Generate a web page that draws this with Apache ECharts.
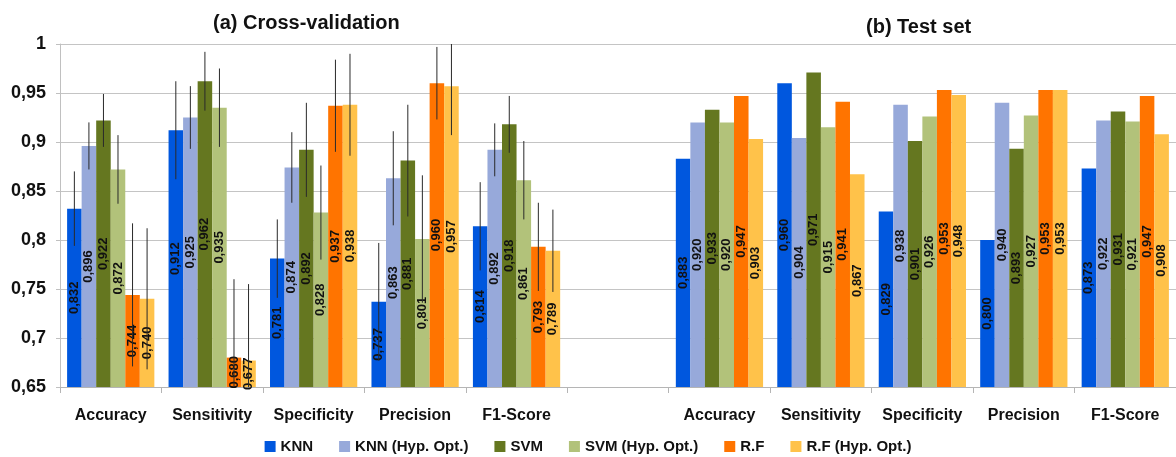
<!DOCTYPE html>
<html>
<head>
<meta charset="utf-8">
<script src="https://cdn.jsdelivr.net/npm/echarts@6/dist/echarts.min.js"></script>
<style>
html,body{margin:0;padding:0;background:#fff;}
#chart{width:1176px;height:457px;}
</style>
</head>
<body>
<div id="chart"></div>
<script>
// ---- data ----
const metrics = ['Accuracy', 'Sensitivity', 'Specificity', 'Precision', 'F1-Score'];
const categories = metrics.concat([''], metrics);
const seriesNames = ['KNN', 'KNN (Hyp. Opt.)', 'SVM', 'SVM (Hyp. Opt.)', 'R.F', 'R.F (Hyp. Opt.)'];

// Cross-validation values (per model, per metric)
const cvKNN    = [0.832, 0.912, 0.781, 0.737, 0.814];
const cvKNNHyp = [0.896, 0.925, 0.874, 0.863, 0.892];
const cvSVM    = [0.922, 0.962, 0.892, 0.881, 0.918];
const cvSVMHyp = [0.872, 0.935, 0.828, 0.801, 0.861];
const cvRF     = [0.744, 0.680, 0.937, 0.960, 0.793];
const cvRFHyp  = [0.740, 0.677, 0.938, 0.957, 0.789];

// Test-set values
const tsKNN    = [0.883, 0.960, 0.829, 0.800, 0.873];
const tsKNNHyp = [0.920, 0.904, 0.938, 0.940, 0.922];
const tsSVM    = [0.933, 0.971, 0.901, 0.893, 0.931];
const tsSVMHyp = [0.920, 0.915, 0.926, 0.927, 0.921];
const tsRF     = [0.947, 0.941, 0.953, 0.953, 0.947];
const tsRFHyp  = [0.903, 0.867, 0.948, 0.953, 0.908];

// Cross-validation error bar half-widths (estimated)
const errKNN    = [0.038, 0.050, 0.040, 0.060, 0.045];
const errKNNHyp = [0.024, 0.032, 0.036, 0.048, 0.027];
const errSVM    = [0.027, 0.030, 0.048, 0.057, 0.029];
const errSVMHyp = [0.035, 0.040, 0.048, 0.065, 0.040];
const errRF     = [0.073, 0.080, 0.047, 0.037, 0.045];
const errRFHyp  = [0.072, 0.078, 0.052, 0.050, 0.042];

const yTicks = [0.65, 0.7, 0.75, 0.8, 0.85, 0.9, 0.95, 1];
const colors = ['#0057DE', '#97A9DA', '#657720', '#B2C27A', '#FF7400', '#FFC24A'];

// ---- build ----
const cvAll = [cvKNN, cvKNNHyp, cvSVM, cvSVMHyp, cvRF, cvRFHyp];
const tsAll = [tsKNN, tsKNNHyp, tsSVM, tsSVMHyp, tsRF, tsRFHyp];
const errAll = [errKNN, errKNNHyp, errSVM, errSVMHyp, errRF, errRFHyp];
const Y_MIN = yTicks[0], Y_MAX = yTicks[yTicks.length - 1];
const GAP = 0.14;
const FONT = "'Liberation Sans', Arial, sans-serif";

const series = [];
seriesNames.forEach(function (name, i) {
  series.push({
    type: 'bar',
    name: name,
    data: cvAll[i].concat(['-'], tsAll[i]),
    barGap: '0%',
    barCategoryGap: (GAP * 100) + '%',
    itemStyle: { color: colors[i] },
    label: {
      show: true,
      position: 'inside',
      rotate: 90,
      color: '#111',
      fontFamily: FONT,
      fontSize: 13,
      fontWeight: 'bold',
      formatter: function (p) { return Number(p.value).toFixed(3).replace('.', ','); }
    }
  });
});
seriesNames.forEach(function (name, i) {
  series.push({
    type: 'custom',
    name: 'err' + i,
    silent: true,
    z: 10,
    data: cvAll[i].map(function (v, k) { return [k, v - errAll[i][k], v + errAll[i][k]]; }),
    renderItem: function (params, api) {
      const c = api.value(0);
      const lo = Math.max(api.value(1), Y_MIN);
      const hi = Math.min(api.value(2), Y_MAX);
      const pLo = api.coord([c, lo]);
      const pHi = api.coord([c, hi]);
      const band = api.size([1, 0])[0];
      const total = band * (1 - GAP);
      const bw = total / 6;
      const x = pLo[0] - total / 2 + bw * (i + 0.5);
      return {
        type: 'line',
        shape: { x1: x, y1: pLo[1], x2: x, y2: pHi[1] },
        style: { stroke: '#2a2a2a', lineWidth: 1 }
      };
    }
  });
});

const chart = echarts.init(document.getElementById('chart'), null, { renderer: 'canvas' });
chart.setOption({
  animation: false,
  textStyle: { fontFamily: FONT },
  title: [
    { text: '(a) Cross-validation', left: 213, top: 13, padding: 0,
      textStyle: { fontFamily: FONT, fontSize: 20, fontWeight: 'bold', color: '#111' } },
    { text: '(b) Test set', left: 866, top: 17, padding: 0,
      textStyle: { fontFamily: FONT, fontSize: 20, fontWeight: 'bold', color: '#111' } }
  ],
  legend: {
    data: seriesNames,
    left: 'center',
    top: 439,
    icon: 'rect',
    itemWidth: 11,
    itemHeight: 11,
    itemGap: 26,
    padding: 0,
    textStyle: { fontFamily: FONT, fontSize: 15, fontWeight: 'bold', color: '#111' }
  },
  grid: { left: 60, right: -5, top: 44, bottom: 70 },
  xAxis: {
    type: 'category',
    data: categories,
    axisLine: { lineStyle: { color: '#b5b5b5', width: 1 } },
    axisTick: { show: true, length: 6, lineStyle: { color: '#b5b5b5' } },
    axisLabel: { interval: 0, margin: 21, fontFamily: FONT, fontSize: 16, fontWeight: 'bold', color: '#111' },
    splitLine: { show: false }
  },
  yAxis: {
    type: 'value',
    min: Y_MIN,
    max: Y_MAX,
    interval: 0.05,
    axisLine: { show: true, lineStyle: { color: '#c0c0c0' } },
    axisTick: { show: true, length: 4, lineStyle: { color: '#c0c0c0' } },
    axisLabel: {
      margin: 14,
      fontFamily: FONT, fontSize: 18, fontWeight: 'bold', color: '#111',
      formatter: function (v) { return String(Number(v.toFixed(2))).replace('.', ','); }
    },
    splitLine: { lineStyle: { color: '#c4c4c4', width: 1 } }
  },
  series: series
});
</script>
</body>
</html>
